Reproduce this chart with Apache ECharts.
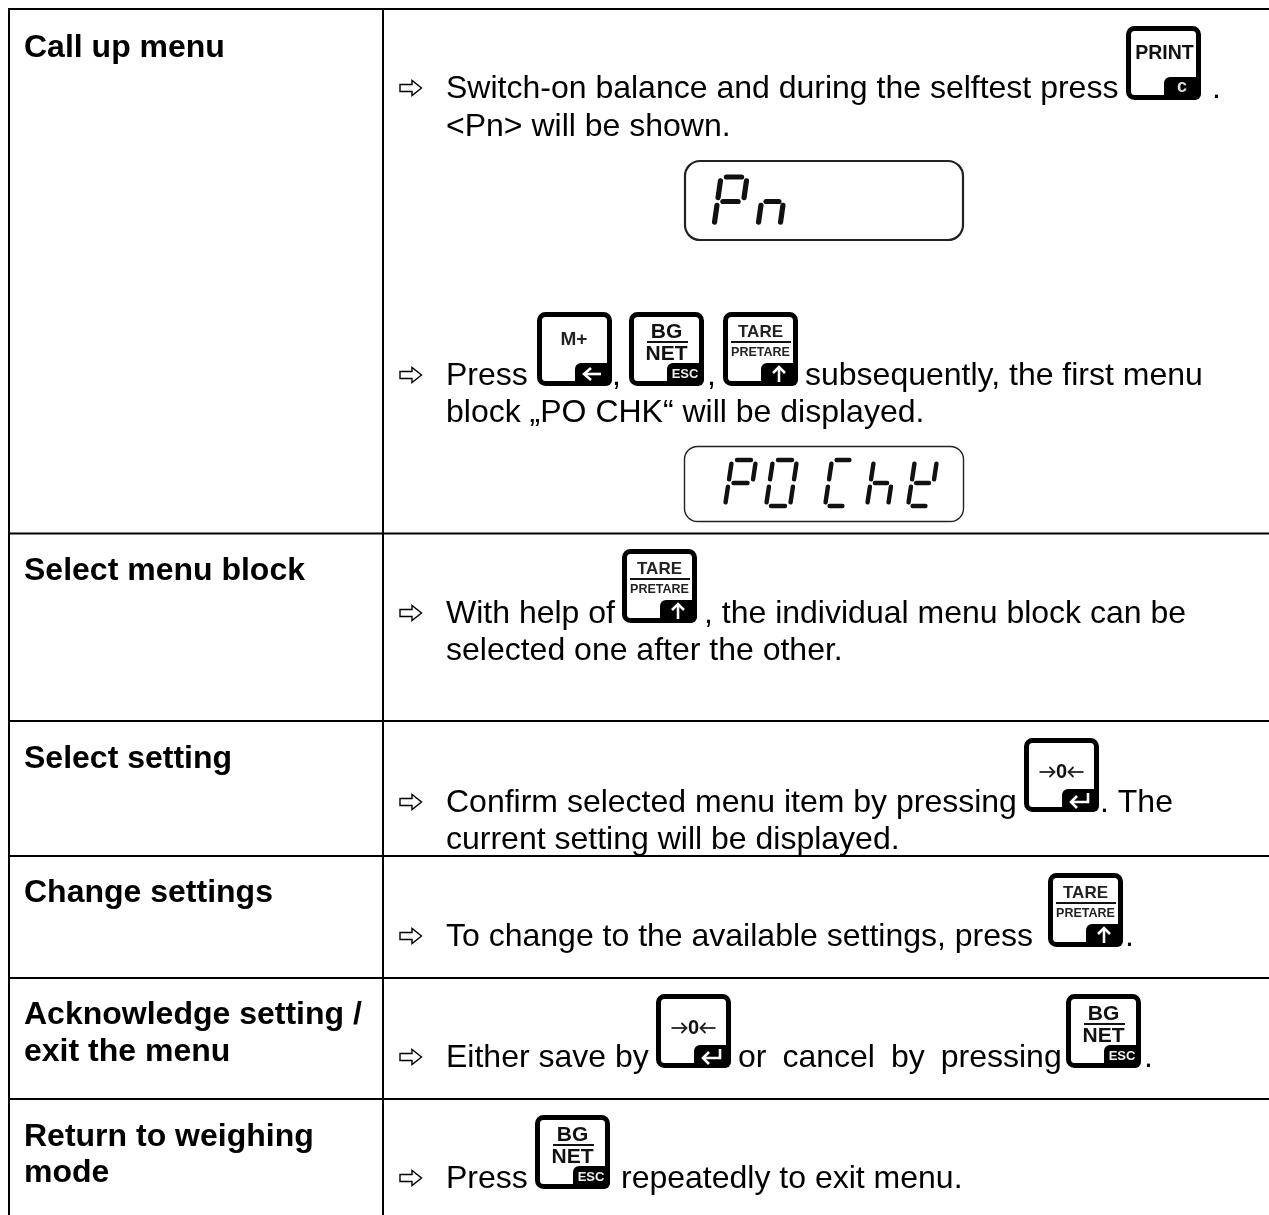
<!DOCTYPE html>
<html>
<head>
<meta charset="utf-8">
<style>html,body{margin:0;padding:0;background:#fff}#main{width:1269px;height:1215px}</style>
<script src="https://cdn.jsdelivr.net/npm/echarts@6/dist/echarts.min.js"></script>
</head>
<body>
<div id="main"></div>
<script>
// row titles of the left column
var rowTitles = ['Call up menu', 'Select menu block', 'Select setting', 'Change settings',
    'Acknowledge setting /', 'exit the menu', 'Return to weighing', 'mode'];
// instruction fragments of the right column
var stepTexts = ['Switch-on balance and during the selftest press', '.', '<Pn> will be shown.',
    'Press', ',', ',', 'subsequently, the first menu', 'block „PO CHK“ will be displayed.',
    'With help of', ', the individual menu block can be', 'selected one after the other.',
    'Confirm selected menu item by pressing', '. The', 'current setting will be displayed.',
    'To change to the available settings, press', '.',
    'Either save by', 'or\u2002cancel\u2002by\u2002pressing', '.',
    'Press', 'repeatedly to exit menu.'];
var displayWords = [['P', 'n'], ['P', 'O', 'C', 'h', 'K']];

// layout, kept apart from the content (y values are text baselines)
var titleY = [57, 580, 768, 902, 1024, 1061, 1146, 1182];
var stepPos = [[446, 98], [1212, 98], [446, 136], [446, 385], [612, 385], [707, 385], [805, 385], [446, 422],
    [446, 623], [704, 623], [446, 660], [446, 812], [1100, 812], [446, 849], [446, 946], [1125, 946],
    [446, 1067], [738, 1067], [1144, 1067], [446, 1188], [621, 1188]];
var arrowY = [88, 375, 613, 802, 936, 1057, 1178];
var hLines = [9, 533.5, 721, 856, 978, 1099];
var vLines = [9, 383];
var keys = [
    ['print', 1126, 26], ['mplus', 537, 312], ['bgnet', 629, 312], ['tare', 723, 312],
    ['tare', 622, 549], ['zero', 1024, 738], ['tare', 1048, 873],
    ['zero', 656, 994], ['bgnet', 1066, 994], ['bgnet', 535, 1115]
];

var els = [];
var FONT = '"Liberation Sans", Arial, sans-serif';

function text(str, x, y, size, weight, fill, align) {
    return {
        type: 'text', x: x, y: y, silent: true,
        style: { text: str, fontFamily: FONT, fontSize: size, fontWeight: weight || 'normal',
            fill: fill || '#000', align: align || 'left', verticalAlign: 'middle' }
    };
}
// big table text is placed by its baseline
function bodyText(str, x, base, weight) {
    return text(str, x, base - 9.3, 32, weight);
}

hLines.forEach(function (y) {
    els.push({ type: 'line', shape: { x1: 8, y1: y, x2: 1269, y2: y }, style: { stroke: '#000', lineWidth: 2 } });
});
vLines.forEach(function (x) {
    els.push({ type: 'line', shape: { x1: x, y1: 8, x2: x, y2: 1215 }, style: { stroke: '#000', lineWidth: 2 } });
});

rowTitles.forEach(function (t, i) {
    els.push(bodyText(t, 24, titleY[i], 'bold'));
});
stepTexts.forEach(function (t, i) {
    els.push(bodyText(t, stepPos[i][0], stepPos[i][1]));
});

// hollow arrow in front of each step
arrowY.forEach(function (y) {
    els.push({
        type: 'polygon',
        shape: { points: [[400, y - 3.5], [412, y - 3.5], [412, y - 7.5], [421.5, y], [412, y + 7.5], [412, y + 3.5], [400, y + 3.5]] },
        style: { fill: '#fff', stroke: '#000', lineWidth: 1.4 }
    });
});

// little white arrow in the black corner of a key
function whiteLine(pts) {
    els.push({ type: 'polyline', shape: { points: pts }, style: { stroke: '#fff', lineWidth: 2.6, fill: 'none' } });
}

function drawKey(kind, x, y) {
    var w = 75, h = 74;
    els.push({ type: 'rect', shape: { x: x + 2.5, y: y + 2.5, width: w - 5, height: h - 5, r: 6 },
        style: { fill: '#fff', stroke: '#000', lineWidth: 5 } });
    els.push({ type: 'rect', shape: { x: x + 38, y: y + 51, width: w - 38, height: h - 51, r: [6, 1, 6, 0] },
        style: { fill: '#000' } });
    var cx = x + w / 2;
    var nx = x + 56;
    var ny = y + 62;
    if (kind === 'print') {
        els.push(text('PRINT', cx + 1, y + 28, 19.5, 'bold', '#111', 'center'));
        els.push(text('c', nx, ny - 1, 18, 'bold', '#ddd', 'center'));
    } else if (kind === 'mplus') {
        els.push(text('M+', x + 37, y + 28, 19, 'bold', '#222', 'center'));
        whiteLine([[nx - 9, ny], [nx + 8, ny]]);
        whiteLine([[nx - 2, ny - 6], [nx - 9, ny], [nx - 2, ny + 6]]);
    } else if (kind === 'bgnet') {
        els.push(text('BG', cx, y + 20, 21, 'bold', '#111', 'center'));
        els.push({ type: 'rect', shape: { x: x + 18, y: y + 29, width: 41, height: 2 }, style: { fill: '#111' } });
        els.push(text('NET', cx, y + 42, 21, 'bold', '#111', 'center'));
        els.push(text('ESC', nx, ny, 13, 'bold', '#eee', 'center'));
    } else if (kind === 'tare') {
        els.push(text('TARE', cx, y + 20, 17, 'bold', '#222', 'center'));
        els.push({ type: 'rect', shape: { x: x + 8, y: y + 29, width: 60, height: 2 }, style: { fill: '#111' } });
        els.push(text('PRETARE', cx, y + 41, 12.5, 'bold', '#222', 'center'));
        whiteLine([[nx, ny + 8], [nx, ny - 7]]);
        whiteLine([[nx - 6, ny - 1], [nx, ny - 7], [nx + 6, ny - 1]]);
    } else if (kind === 'zero') {
        els.push(text('0', cx, y + 34, 20, 'bold', '#111', 'center'));
        // arrows closing in on the zero
        [[-22, -7], [22, 7]].forEach(function (a) {
            var tip = cx + a[1];
            var s = a[0] < 0 ? -1 : 1;
            els.push({ type: 'polyline', shape: { points: [[cx + a[0], y + 34], [tip, y + 34]] }, style: { stroke: '#222', lineWidth: 1.8, fill: 'none' } });
            els.push({ type: 'polyline', shape: { points: [[tip + s * 5, y + 29], [tip, y + 34], [tip + s * 5, y + 39]] }, style: { stroke: '#222', lineWidth: 1.8, fill: 'none' } });
        });
        whiteLine([[nx + 8, ny - 7], [nx + 8, ny + 2], [nx - 9, ny + 2]]);
        whiteLine([[nx - 3, ny - 4], [nx - 9, ny + 2], [nx - 3, ny + 8]]);
    }
}
keys.forEach(function (k) { drawKey(k[0], k[1], k[2]); });

// seven segment glyphs, drawn on a unit cell with a small slant
var GLYPH = {
    P: ['a', 'f', 'b', 'g', 'e'], O: ['a', 'b', 'c', 'd', 'e', 'f'], C: ['a', 'f', 'e', 'd'],
    h: ['f', 'e', 'g', 'c'], K: ['f', 'b', 'g', 'e', 'd'], n: ['e', 'g', 'c']
};
var SEG = {
    a: [[0, 0], [1, 0]], b: [[1, 0], [1, .5]], c: [[1, .5], [1, 1]], d: [[0, 1], [1, 1]],
    e: [[0, .5], [0, 1]], f: [[0, 0], [0, .5]], g: [[0, .5], [1, .5]]
};
function drawGlyph(ch, x, y, w, h, lw) {
    var slant = 7;
    GLYPH[ch].forEach(function (s) {
        var p = SEG[s];
        var gap = 0.16;
        var ax = p[0][0] + (p[1][0] - p[0][0]) * gap * 1.3, ay = p[0][1] + (p[1][1] - p[0][1]) * gap;
        var bx = p[1][0] - (p[1][0] - p[0][0]) * gap * 1.3, by = p[1][1] - (p[1][1] - p[0][1]) * gap;
        els.push({
            type: 'line',
            shape: { x1: x + ax * w + (1 - ay) * slant, y1: y + ay * h, x2: x + bx * w + (1 - by) * slant, y2: y + by * h },
            style: { stroke: '#111', lineWidth: lw, lineCap: 'round' }
        });
    });
}
// display boxes
els.push({ type: 'rect', shape: { x: 685, y: 161, width: 278, height: 79, r: 15 }, style: { fill: '#fff', stroke: '#222', lineWidth: 2.2 } });
els.push({ type: 'rect', shape: { x: 684.5, y: 446.5, width: 279, height: 75, r: 13 }, style: { fill: '#fff', stroke: '#222', lineWidth: 1.4 } });

var word1X = [[714, 26], [758, 22]];
var word2X = [[725, 24], [766, 24], [825, 22], [867, 21], [908, 22]];
drawGlyph(displayWords[0][0], word1X[0][0], 177, word1X[0][1], 49, 5.2);
// the n only fills the lower half of the cell
drawGlyph(displayWords[0][1], word1X[1][0], 177, word1X[1][1], 49, 5.2);
displayWords[1].forEach(function (c, i) {
    drawGlyph(c, word2X[i][0], 460, word2X[i][1], 46, 4.4);
});

var chart = echarts.init(document.getElementById('main'));
chart.setOption({ animation: false, backgroundColor: '#fff', graphic: { elements: els } });
</script>
</body>
</html>
